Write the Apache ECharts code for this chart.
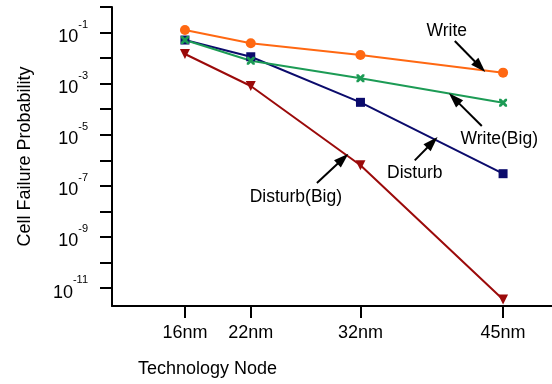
<!DOCTYPE html>
<html>
<head>
<meta charset="utf-8">
<script src="https://cdn.jsdelivr.net/npm/echarts@6/dist/echarts.min.js"></script>
<style>html,body{margin:0;padding:0;background:#fff}#c{width:552px;height:384px}</style>
</head>
<body>
<div id="c"></div>
<script>
// ---- data ----
const nodes = [16, 22, 32, 45];
const nodeLabels = ['16nm', '22nm', '32nm', '45nm'];
const writeP = [0.126, 0.038, 0.0132, 0.0027];
const writeBigP = [0.051, 0.0079, 0.00162, 1.8e-4];
const disturbP = [0.051, 0.0113, 1.86e-4, 3.0e-7];
const disturbBigP = [0.0145, 8.1e-4, 6.4e-7, 3.6e-12];
const yTickExps = [-11, -10, -9, -8, -7, -6, -5, -4, -3, -2, -1, 0];
const yLabelExps = [-11, -9, -7, -5, -3, -1];
// annotations: [label, textX, textP, tailX, tailP, tipX, tipP]
const annotations = [
  ['Write', 39.87, 1.1e-1, 40.6, 4.7e-2, 42.9, 4.6e-3],
  ['Write(Big)', 44.65, 6.9e-6, 43.06, 2.2e-5, 40.55, 2.6e-4],
  ['Disturb', 36.95, 3.2e-7, 36.95, 1.0e-6, 38.55, 5.0e-6],
  ['Disturb(Big)', 26.11, 3.5e-8, 28.03, 1.3e-7, 30.4, 1.15e-6]
];

const FONT = 'Liberation Sans, Arial, Helvetica, sans-serif';
const toPts = arr => nodes.map((n, i) => [n, Math.log10(arr[i])]);

const seriesDefs = [
  {name: 'Disturb(Big)', vals: disturbBigP, color: '#9b0a0a', symbol: 'triangle', size: 10, rotate: 180},
  {name: 'Disturb', vals: disturbP, color: '#0b0b6c', symbol: 'rect', size: 9, rotate: 0},
  {name: 'Write(Big)', vals: writeBigP, color: '#1c9b55', symbol: 'path://M0,0 L2.5,0 5,2.5 7.5,0 10,0 10,2.5 7.5,5 10,7.5 10,10 7.5,10 5,7.5 2.5,10 0,10 0,7.5 2.5,5 0,2.5Z', size: 8, rotate: 0},
  {name: 'Write', vals: writeP, color: '#ff6812', symbol: 'circle', size: 10, rotate: 0}
];

const series = seriesDefs.map(d => ({
  name: d.name,
  type: 'line',
  data: toPts(d.vals),
  symbol: d.symbol,
  symbolSize: d.size,
  symbolRotate: d.rotate,
  showSymbol: true,
  lineStyle: {color: d.color, width: 2},
  itemStyle: {color: d.color, borderWidth: 0},
  z: 3
}));

series.push({
  name: 'annotations',
  type: 'line',
  data: [],
  silent: true,
  markLine: {
    silent: true,
    animation: false,
    symbol: ['none', 'triangle'],
    symbolSize: [10, 15],
    lineStyle: {color: '#000', width: 2, type: 'solid'},
    label: {show: false},
    data: annotations.map(a => [
      {coord: [a[3], Math.log10(a[4])]},
      {coord: [a[5], Math.log10(a[6])]}
    ])
  },
  markPoint: {
    silent: true,
    animation: false,
    symbol: 'circle',
    symbolSize: 0,
    label: {show: true, position: 'inside', color: '#000', fontSize: 17.5, fontFamily: FONT},
    data: annotations.map(a => ({
      coord: [a[1], Math.log10(a[2])],
      value: a[0],
      label: {formatter: a[0]}
    }))
  }
});

const chart = echarts.init(document.getElementById('c'), null, {renderer: 'canvas'});
chart.setOption({
  animation: false,
  backgroundColor: '#fff',
  textStyle: {fontFamily: FONT},
  grid: {left: 112, top: 7, right: 0, bottom: 78, containLabel: false},
  xAxis: {
    type: 'value',
    min: 9.35,
    max: 49.46,
    splitLine: {show: false},
    axisLine: {onZero: false, lineStyle: {color: '#000', width: 2}},
    axisTick: {show: true, length: 12, lineStyle: {color: '#000', width: 2}, customValues: nodes},
    axisLabel: {
      customValues: nodes,
      color: '#000', fontSize: 18, fontFamily: FONT, margin: 18,
      formatter: v => nodeLabels[nodes.indexOf(v)]
    }
  },
  yAxis: {
    type: 'value',
    min: -11.7,
    max: 0,
    splitLine: {show: false},
    axisLine: {onZero: false, lineStyle: {color: '#000', width: 2}},
    axisTick: {show: true, length: 12, lineStyle: {color: '#000', width: 2}, customValues: yTickExps},
    axisLabel: {
      customValues: yLabelExps,
      margin: 24,
      formatter: v => '{b|10}{s|' + Math.round(v) + '}',
      rich: {
        b: {fontSize: 18, fontFamily: FONT, color: '#000', lineHeight: 27, verticalAlign: 'bottom'},
        s: {fontSize: 11, fontFamily: FONT, color: '#000', lineHeight: 27, verticalAlign: 'top'}
      }
    },
    name: 'Cell Failure Probability',
    nameLocation: 'middle',
    nameRotate: 90,
    nameGap: 78,
    nameTextStyle: {fontSize: 18, fontFamily: FONT, color: '#000'}
  },
  graphic: [{
    type: 'text',
    left: 138,
    top: 360,
    style: {text: 'Technology Node', font: '18px ' + FONT, fill: '#000'}
  }],
  series: series
});
</script>
</body>
</html>
